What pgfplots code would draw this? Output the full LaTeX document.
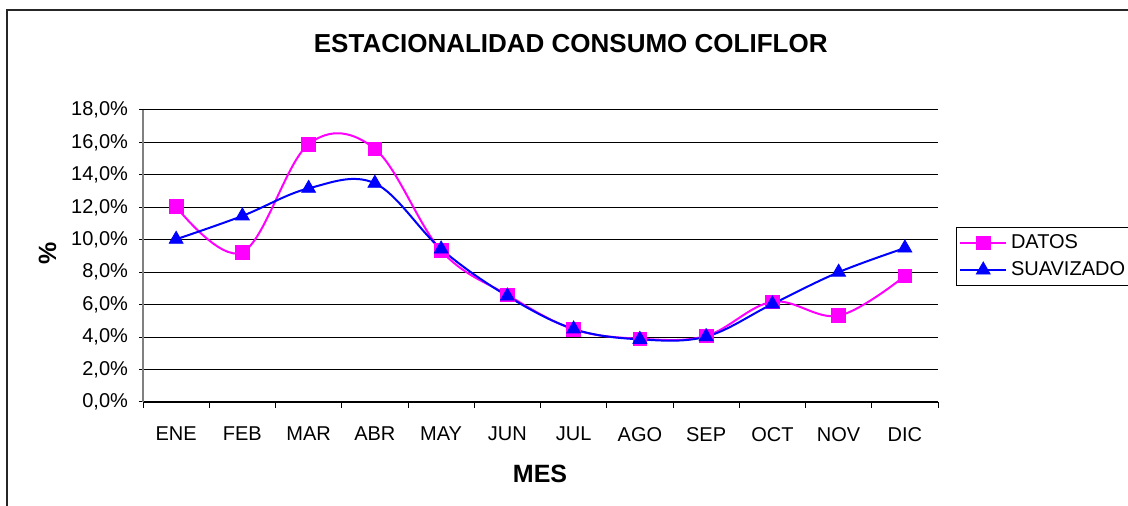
\documentclass[border=0pt]{standalone}
\usepackage{fontspec}
\setmainfont{Liberation Sans}
\usepackage{pgfplots}
\pgfplotsset{compat=1.18}
\definecolor{datos}{RGB}{255,0,255}
\definecolor{suav}{RGB}{0,0,255}

\begin{document}
\begin{tikzpicture}
\useasboundingbox (0,0) rectangle (564pt,253pt);
\draw[line width=0.8pt, black!85] (3.5pt,0) -- (3.5pt,248pt) -- (564pt,248pt);
\begin{axis}[
    at={(71.5pt,52pt)}, anchor=south west,
    scale only axis, width=397.5pt, height=146pt,
    xmin=0.5, xmax=12.5, ymin=0, ymax=18,
    axis x line*=bottom, axis y line*=left,
    x axis line style={black, line width=0.6pt, -},
    y axis line style={gray, line width=0.8pt, -},
    xtick={1,...,12},
    xticklabels={ENE,FEB,MAR,ABR,MAY,JUN,JUL,AGO,SEP,OCT,NOV,DIC},
    major x tick style={draw=none},
    minor xtick={0.5,1.5,...,12.5},
    ytick={0,2,...,18},
    yticklabels={{0,0\%},{2,0\%},{4,0\%},{6,0\%},{8,0\%},{10,0\%},{12,0\%},{14,0\%},{16,0\%},{18,0\%}},
    ymajorgrids, grid style={black, line width=0.5pt},
    xtick align=outside, ytick align=center,
    major tick length=4pt, minor tick length=3pt,
    tick style={black, line width=0.5pt},
    ticklabel style={font=\fontsize{10}{12}\selectfont},
    xticklabel style={yshift=-5pt},
    yticklabel style={xshift=-2pt},
    title={ESTACIONALIDAD CONSUMO COLIFLOR},
    title style={font=\fontsize{13}{15}\selectfont\bfseries, at={(axis description cs:0.538,1.185)}, anchor=center},
    xlabel={MES},
    xlabel style={font=\fontsize{12.5}{15}\selectfont\bfseries, at={(axis description cs:0.4994,-0.2466)}, anchor=center},
    ylabel={\%},
    ylabel style={font=\fontsize{12.5}{15}\selectfont\bfseries, at={(axis description cs:-0.12,0.51)}, anchor=center},
    legend style={at={(1.0226,0.599)}, anchor=north west, draw=black, line width=0.5pt,
        font=\fontsize{10}{12}\selectfont, inner sep=1.5pt, row sep=1pt,
        cells={anchor=west}},
    legend image code/.code={\draw[mark repeat=2, mark phase=2] plot coordinates {(0cm,0cm) (0.4cm,0cm) (0.8cm,0cm)};},
]
\addplot[datos, line width=1pt, smooth, tension=0.6, mark=square*, mark size=3.4pt,
    mark options={fill=datos, draw=datos, line width=0.4pt}] table {
x y
1 12.04
2 9.23
3 15.89
4 15.60
5 9.33
6 6.60
7 4.48
8 3.90
9 4.07
10 6.18
11 5.32
12 7.77
};
\addlegendentry{DATOS}
\addplot[suav, line width=1pt, smooth, tension=0.6, mark=triangle*, mark size=4pt,
    mark options={fill=suav, draw=suav, line width=0.4pt}] table {
x y
1 10.03
2 11.47
3 13.17
4 13.48
5 9.43
6 6.53
7 4.50
8 3.86
9 4.03
10 6.04
11 8.00
12 9.49
};
\addlegendentry{SUAVIZADO}
\end{axis}
\end{tikzpicture}
\end{document}
